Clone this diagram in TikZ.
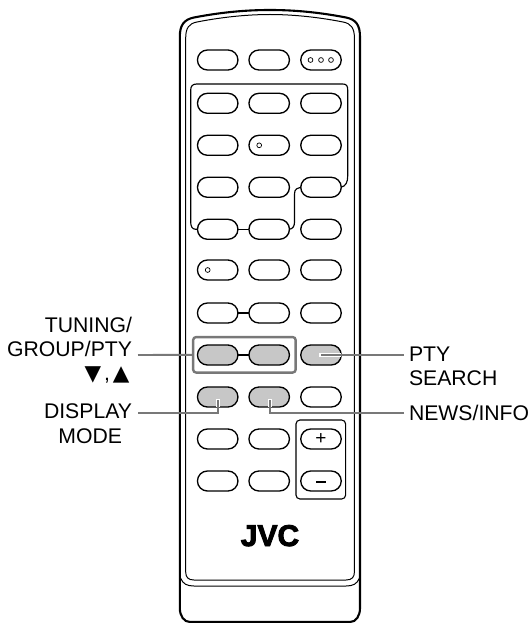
\documentclass[tikz,border=0pt]{standalone}
\usepackage{fontspec}
\setmainfont{Liberation Sans}
\newfontfamily\symfont{DejaVu Sans}
\newfontfamily\logofont[FakeBold=3]{Liberation Sans Bold}
\usetikzlibrary{shapes.misc,calc}
\definecolor{btngrey}{gray}{0.78}
\definecolor{leadgrey}{gray}{0.47}
\tikzset{
  x=1pt,y=-1pt,
  btn/.style={draw=black,line width=1.35pt,fill=white,rounded rectangle,minimum width=40.5pt,minimum height=20pt,inner sep=0pt,outer sep=0pt},
  greybtn/.style={btn,fill=btngrey},
  leader/.style={draw=leadgrey,line width=1.9pt},
  halo/.style={draw=white,line width=4pt},
  wire/.style={draw=black,line width=1.15pt,line join=round},
  lab/.style={font=\fontsize{21.2}{24}\selectfont,inner sep=0pt,outer sep=0pt,text depth=0pt},
  dot/.style={circle,draw=black,line width=.7pt,minimum size=4.8pt,inner sep=0pt,fill=white},
}
\begin{document}
\begin{tikzpicture}
\useasboundingbox (0,0) rectangle (530,623);
% body
\draw[line width=2.1pt] (190,622) .. controls (184,622) and (179.8,616) .. (179.8,608) -- (179.8,37)
  .. controls (179.8,25) and (184,19.5) .. (194,17.5)
  .. controls (225,11.5) and (250,10) .. (270,10)
  .. controls (290,10) and (315,11.5) .. (346,17.5)
  .. controls (356,19.5) and (360,25) .. (360,37) -- (360,608)
  .. controls (360,616) and (356,622) .. (350,622) -- cycle;
\draw[line width=1pt] (185.7,572) .. controls (185.7,577) and (188,580) .. (194,580) -- (346,580) .. controls (352,580) and (354.4,577) .. (354.4,572) -- (354.4,38)
  .. controls (354.4,28) and (351,23.5) .. (343,22)
  .. controls (315,16.5) and (290,14.5) .. (270,14.5)
  .. controls (250,14.5) and (225,16.5) .. (197,22)
  .. controls (189,23.5) and (185.7,28) .. (185.7,38) -- cycle;
\draw[line width=1pt] (180.5,578) .. controls (183,584) and (187,586) .. (194,586) -- (346,586) .. controls (353,586) and (357,584) .. (359.5,578);
% button coordinates
\foreach \nm/\cx in {a/217.7,b/269.2,c/321}{
  \foreach \rw/\cy in {0/60,1/103.3,2/145.3,3/187.3,4/229.3,5/270,6/313,7/355,8/397,9/439,10/481}{
    \coordinate (p\nm\rw) at (\cx,\cy);
  }
}
% wires first, buttons on top
\draw[wire] (pa4) -- ++(-22,0) .. controls (192,229.3) and (190.7,226) .. (190.7,222) -- (190.7,90) .. controls (190.7,86) and (192.7,84) .. (196.7,84) -- (342.7,84) .. controls (346.7,84) and (347.7,86) .. (347.7,90) -- (347.7,176) .. controls (347.7,182) and (346,186) .. (341,187.3) -- (pc3);
\draw[wire] (pc3) -- (303,187.5) .. controls (297,187.5) and (294.5,189) .. (294.5,194) -- (294.5,222) .. controls (294.5,226) and (293,229) .. (289,229.3) -- (pb4);
\draw[wire] (pa4) -- (pb4);
\draw[wire] (pa6) -- (pb6);
\draw[wire] (pa7) -- (pb7);
% plain buttons
\foreach \rw in {0,1,2,3,4,5,6,9,10}{
  \node[btn] (a\rw) at (pa\rw) {};
  \node[btn] (b\rw) at (pb\rw) {};
}
\foreach \rw in {0,1,2,3,4,5,6,8}{
  \node[btn] (c\rw) at (pc\rw) {};
}
% grey buttons
\node[greybtn] (a7) at (pa7) {};
\node[greybtn] (b7) at (pb7) {};
\node[greybtn] (c7) at (pc7) {};
\node[greybtn] (a8) at (pa8) {};
\node[greybtn] (b8) at (pb8) {};
% small marks
\node[dot] (d1) at ($(c0)+(-10.5,0)$) {};
\node[dot] (d2) at (c0) {};
\node[dot] (d3) at ($(c0)+(10,0)$) {};
\node[dot] (d4) at ($(b2)+(-10,0)$) {};
\node[dot] (d5) at ($(a5)+(-10,0)$) {};
% volume frame
\node[draw=black,line width=1.1pt,rounded corners=4pt,inner sep=0pt,outer sep=0pt,minimum width=49.7pt,minimum height=79pt] (volbox) at (320.8,459.5) {};
\node[btn] (plusbtn) at (pc9) {};
\node[btn] (minusbtn) at (pc10) {};
\node[inner sep=0pt,font=\fontsize{19}{19}\selectfont] (plussign) at (321,439) {+};
\draw[line width=2pt] ($(minusbtn)+(-5,0.5)$) -- ($(minusbtn)+(5,0.5)$);
% grey frame
\node[draw=leadgrey,line width=2.4pt,rounded corners=3pt,inner sep=0pt,outer sep=0pt,minimum width=102.5pt,minimum height=35.5pt] (tunebox) at (244.4,354.8) {};
% leaders
\coordinate (lt) at (138,355);
\coordinate (ld) at (138,413);
\coordinate (rp) at (404,355);
\coordinate (rn) at (404,413);
\coordinate (pe) at (321,355);
\coordinate (de) at (217.7,400);
\coordinate (ne) at (270,400);
\draw[halo] (319,355) -- (341,355);
\draw[halo] (217.7,399) -- (217.7,406.5);
\draw[halo] (270,399) -- (270,406.5);
\draw[leader] (lt) -- (tunebox.west);
\draw[leader] (pe) -- (rp);
\draw[leader] (ld) -| (de);
\draw[leader] (rn) -| (ne);
% labels
\node[lab,anchor=base east] (t1) at (132,332) {TUNING/};
\node[lab,anchor=base east] (t2) at (132,356) {GROUP/PTY};
\node[lab,anchor=base east] (t3) at (129.5,380) {{\symfont\fontsize{21.5}{21.5}\selectfont ▼}\kern3pt,\kern3pt{\symfont\fontsize{21.5}{21.5}\selectfont ▲}};
\node[lab,anchor=base east] (t4) at (132,418.5) {DISPLAY};
\node[lab,anchor=base east] (t5) at (122,443) {MODE};
\node[lab,anchor=base west] (t6) at (409,361) {PTY};
\node[lab,anchor=base west] (t7) at (409,385) {SEARCH};
\node[lab,anchor=base west] (t8) at (409,420) {NEWS/INFO};
\node[inner sep=0pt,font=\logofont\fontsize{30}{30}\selectfont,anchor=base] (logo) at (270,546) {JVC};
\end{tikzpicture}
\end{document}
